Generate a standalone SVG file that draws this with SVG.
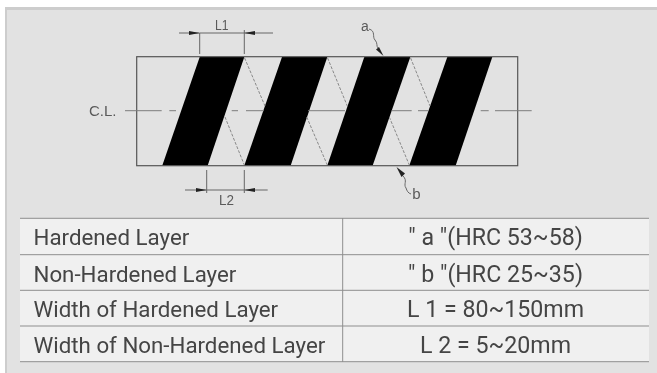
<svg xmlns="http://www.w3.org/2000/svg" width="657" height="373" viewBox="0 0 657 373">
<defs>
<marker id="ah" markerUnits="userSpaceOnUse" markerWidth="12" markerHeight="6" refX="11" refY="3" orient="auto"><path d="M0 1 L11 3 L0 5 Z" fill="#222"/></marker>
<filter id="soft" x="-5%" y="-5%" width="110%" height="110%"><feGaussianBlur stdDeviation="0.45"/></filter>
<filter id="softer" x="-5%" y="-5%" width="110%" height="110%"><feGaussianBlur stdDeviation="0.3"/></filter>
</defs>
<style>
.lbl{font-family:"Roboto","Liberation Sans",sans-serif;font-size:22.3px;fill:#444}
.val{font-family:"Roboto","Liberation Sans",sans-serif;font-size:23.2px;fill:#444;text-anchor:middle}
.mid{text-anchor:middle}
.dim{font-family:"Liberation Sans",Arial,sans-serif;font-size:15px;fill:#5a5a5a}
.rule{stroke:#8e8e8e;stroke-width:1;fill:none}
.thin{stroke:#666;stroke-width:1;fill:none}
.dash{stroke:#888;stroke-width:1;stroke-dasharray:3 1.5;fill:none}
.center{stroke:#7d7d7d;stroke-width:1;fill:none}
.band{fill:#000}
</style>
<rect width="657" height="373" fill="#fff"/>
<g id="panel">
<rect x="5" y="7" width="652" height="366" fill="#cdcdcd"/>
<rect x="7" y="10" width="650" height="363" fill="#e2e2e2"/>
</g>
<g id="drawing" filter="url(#soft)">
<g id="bands">
<polygon class="band" points="199.7,57 244.3,57 207.7,165.5 162.3,165.5"/>
<polygon class="band" points="282,57 327.3,57 290.7,165.5 244.3,165.5"/>
<polygon class="band" points="364.3,57 410.3,57 372.7,165.5 327.3,165.5"/>
<polygon class="band" points="447.3,57 492.3,57 455.7,165.5 409.3,165.5"/>
</g>
<rect id="cylinder" x="136.7" y="56.7" width="381" height="109" fill="none" stroke="#555" stroke-width="1.2"/>
<g id="connectors">
<path class="center" d="M125 110.7H161.7M169.3 110.7H176M231.7 110.7H238M246 110.7H264M308 110.7H345M391.7 110.7H411.7M418 110.7H428M480.7 110.7H488.7M495 110.7H531.7"/>
<path class="dash" d="M244.6 58L265 106M225 117L244.3 165M327.6 58L347.3 106M306.7 117L327.3 165M410.6 58L430 106M389.3 117L409.3 165"/>
<path class="thin" d="M199.7 33V54M244.3 30V54M206.7 170V193M244.3 170V193"/>
<path class="thin" d="M179 33H199.7" marker-end="url(#ah)"/>
<path class="thin" d="M273 33H244.3" marker-end="url(#ah)"/>
<path class="thin" d="M185 190H206.7" marker-end="url(#ah)"/>
<path class="thin" d="M267.7 190H244.3" marker-end="url(#ah)"/>
<path class="thin" d="M200 33H244M207 190H244"/>
<path class="thin" d="M369 29C376 31 372 37 375 40C378 43 376 46 378 48"/>
<path d="M383.5 56L376 49.5L379 47Z" fill="#222"/>
<path class="thin" d="M403 176C408 181 403 184 406 188C407 191 408 193 411 194"/>
<path d="M396.5 167L405 173.5L401.5 177Z" fill="#222"/>
</g>
<g id="dim-labels">
<text class="dim" x="215" y="30" textLength="13.5" lengthAdjust="spacingAndGlyphs">L1</text>
<text class="dim" x="219" y="205" textLength="15" lengthAdjust="spacingAndGlyphs">L2</text>
<text class="dim mid" x="365" y="30.5" style="font-size:14px">a</text>
<text class="dim mid" x="416.5" y="199" style="font-size:15px">b</text>
<text class="dim" x="89" y="116">C.L.</text>
</g>
</g>
<g id="table">
<rect x="20" y="218" width="629" height="144" fill="#f0f0f0"/>
<path class="rule" d="M20 218.3H649M20 254.7H649M20 290.3H649M20 326H649M20 361.7H649"/>
<path class="rule" d="M342.7 218V362"/>
<g filter="url(#softer)">
<text class="lbl" x="33.5" y="245">Hardened Layer</text>
<text class="lbl" x="33.5" y="281.5">Non-Hardened Layer</text>
<text class="lbl" x="33.5" y="317">Width of Hardened Layer</text>
<text class="lbl" x="33.5" y="353">Width of Non-Hardened Layer</text>
<text class="val" x="495.5" y="245">" a "(HRC 53~58)</text>
<text class="val" x="495.5" y="281.5">" b "(HRC 25~35)</text>
<text class="val" x="495.5" y="317">L 1 = 80~150mm</text>
<text class="val" x="495.5" y="353">L 2 = 5~20mm</text>
</g>
</g>
</svg>
